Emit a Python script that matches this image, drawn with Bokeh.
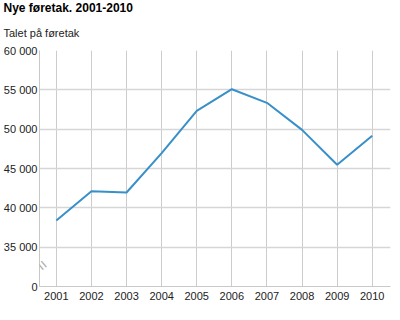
from bokeh.plotting import figure
from bokeh.models import FixedTicker, Label, Range1d, Title
from bokeh.embed import file_html
from bokeh.resources import INLINE

years = [2001, 2002, 2003, 2004, 2005, 2006, 2007, 2008, 2009, 2010]
new_firms = [38390, 42120, 41950, 46950, 52330, 55080, 53350, 49910, 45470, 49150]
y_tick_values = [30000, 35000, 40000, 45000, 50000, 55000, 60000]
y_tick_labels = ["0", "35 000", "40 000", "45 000", "50 000", "55 000", "60 000"]
title_text = "Nye føretak. 2001-2010"
subtitle_text = "Talet på føretak"

FONT = "Liberation Sans"
GRID = "#d6d6d6"

p = figure(width=400, height=320, output_backend="svg", toolbar_location=None,
           x_range=Range1d(2000.52, 2010.52), y_range=Range1d(30000, 60000),
           min_border_left=0, min_border_right=10, min_border_top=0, min_border_bottom=34)
p.outline_line_color = None
p.background_fill_color = "white"
p.border_fill_color = "white"

sub = Title(text=subtitle_text, text_font=FONT, text_font_size="11px",
            text_font_style="normal", text_color="#222222", align="left",
            offset=-36, standoff=24)
main = Title(text=title_text, text_font=FONT, text_font_size="12px",
             text_font_style="bold", text_color="#000000", align="left",
             offset=-36, standoff=-4)
p.add_layout(sub, "above")
p.add_layout(main, "above")

p.line(years, new_firms, line_color="#3990c9", line_width=2)

xa = p.xaxis[0]
xa.ticker = FixedTicker(ticks=years)
xa.major_label_overrides = {y: str(y) for y in years}
xa.major_tick_line_color = None
xa.minor_tick_line_color = None
xa.major_tick_out = 0
xa.major_tick_in = 0
xa.minor_tick_out = 0
xa.axis_line_color = "#c8c8c8"
xa.major_label_text_font = FONT
xa.major_label_text_font_size = "11px"
xa.major_label_text_color = "#222222"
xa.major_label_standoff = 5

ya = p.yaxis[0]
ya.ticker = FixedTicker(ticks=y_tick_values)
ya.major_label_overrides = dict(zip(y_tick_values, y_tick_labels))
ya.major_tick_line_color = None
ya.minor_tick_line_color = None
ya.major_tick_out = 0
ya.major_tick_in = 0
ya.minor_tick_out = 0
ya.axis_line_color = "#c8c8c8"
ya.major_label_text_font = FONT
ya.major_label_text_font_size = "11px"
ya.major_label_text_color = "#222222"
ya.major_label_standoff = 2

p.xgrid.ticker = FixedTicker(ticks=years)
p.xgrid.grid_line_color = "#cccccc"
p.xgrid.grid_line_width = 1
p.ygrid.ticker = FixedTicker(ticks=y_tick_values)
p.ygrid.grid_line_color = GRID
p.ygrid.grid_line_width = 1.5

brk = Label(x=2000.52, y=32700, x_offset=3, text="=", angle=-0.87, text_align="center",
            text_baseline="middle", text_color="#aaaaaa", text_font=FONT,
            text_font_size="16px")
p.add_layout(brk)

open("out.html", "w").write(file_html(p, INLINE))
